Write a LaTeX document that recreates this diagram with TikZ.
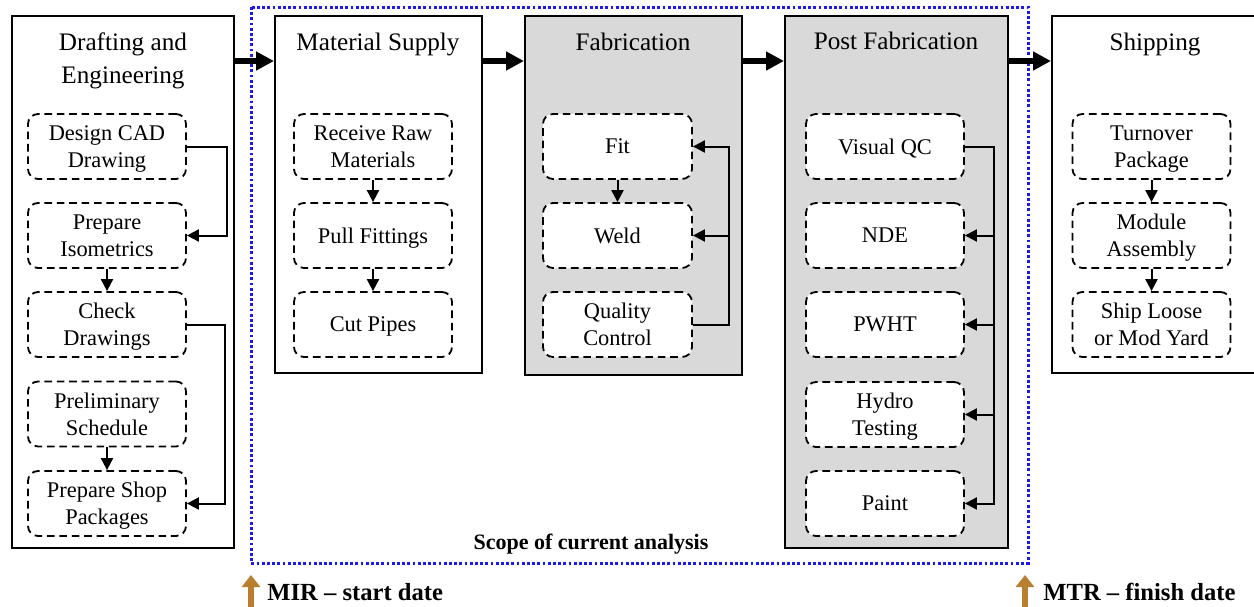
\documentclass[tikz,border=0pt]{standalone}
\usepackage{fontspec}
\setmainfont{Liberation Serif}
\usetikzlibrary{arrows.meta}
\definecolor{panelgray}{RGB}{217,217,217}
\definecolor{scopeblue}{RGB}{25,25,240}
\definecolor{markbrown}{RGB}{184,128,46}

\begin{document}
\begin{tikzpicture}[x=0.5pt,y=-0.5pt,
  stage/.style={draw=black, line width=1pt, inner sep=0pt, fill=white},
  shaded/.style={stage, fill=panelgray},
  task/.style={draw=black, line width=0.9pt, dash pattern=on 3.8pt off 2.4pt,
    rounded corners=5pt, fill=white, minimum width=79pt, minimum height=32.5pt,
    align=center, inner sep=0pt, text depth=0pt, font=\fontsize{11.2}{13.5}\selectfont},
  title/.style={font=\fontsize{12.6}{16.5}\selectfont, align=center},
  conn/.style={line width=1pt, -{Triangle[length=6pt,width=6pt]}},
  flow/.style={line width=3pt, -{Triangle[length=9pt,width=9pt]}},
  scopeline/.style={draw=scopeblue, line width=1.5pt, dash pattern=on 1.4pt off 1.2pt},
  datemark/.style={draw=markbrown, line width=3pt, -{Triangle[length=6pt,width=9pt]}},
  datelabel/.style={font=\bfseries\fontsize{12.3}{14}\selectfont, anchor=base west, inner sep=0pt}
]
\useasboundingbox (0,0) rectangle (1254,606);

% scope of the current analysis
\draw[scopeline] (251,7) rectangle (1028,563);
\node[font=\bfseries\fontsize{11}{13}\selectfont] (scopetext) at (591,544) {Scope of current analysis};

% stages
\node[stage,  minimum width=111pt,  minimum height=266pt]   (draft) at (123,282) {};
\node[stage,  minimum width=103.5pt, minimum height=178.5pt] (mat)   at (378.5,194.5) {};
\node[shaded, minimum width=108.5pt, minimum height=179.5pt] (fab)   at (633.5,195.5) {};
\node[shaded, minimum width=111.5pt, minimum height=266pt]   (post)  at (896.5,282) {};
\node[stage,  minimum width=102pt,  minimum height=178.5pt] (ship)  at (1154,194.5) {};

% stage titles
\node[title] (tdraft) at (123,61) {Drafting and\\Engineering};
\node[title, anchor=base] (tmat)  at (378,50) {Material Supply};
\node[title, anchor=base] (tfab)  at (633,50) {Fabrication};
\node[title, anchor=base] (tpost) at (896,49) {Post Fabrication};
\node[title, anchor=base] (tship) at (1155,50) {Shipping};

% flow between stages
\coordinate (flowline) at (0,61);
\draw[flow] (draft.east |- flowline) -- (mat.west |- flowline);
\draw[flow] (mat.east |- flowline)   -- (fab.west |- flowline);
\draw[flow] (fab.east |- flowline)   -- (post.west |- flowline);
\draw[flow] (post.east |- flowline)  -- (ship.west |- flowline);

% drafting and engineering tasks
\node[task] (d1) at (107,146.5) {Design CAD\\Drawing};
\node[task] (d2) at (107,235.5) {Prepare\\Isometrics};
\node[task] (d3) at (107,324.5) {Check\\Drawings};
\node[task] (d4) at (107,414)   {Preliminary\\Schedule};
\node[task] (d5) at (107,503.5) {Prepare Shop\\Packages};
\draw[conn] (d1.east) -- ++(40,0) |- (d2.east);
\draw[conn] (d2.south) -- (d3.north);
\draw[conn] (d3.east) -- ++(38,0) |- (d5.east);
\draw[conn] (d4.south) -- (d5.north);

% material supply tasks
\node[task] (m1) at (373,146.5) {Receive Raw\\Materials};
\node[task] (m2) at (373,235.5) {Pull Fittings};
\node[task] (m3) at (373,324.5) {Cut Pipes};
\draw[conn] (m1.south) -- (m2.north);
\draw[conn] (m2.south) -- (m3.north);

% fabrication tasks
\node[task, minimum width=74.5pt] (f1) at (617.5,146.5) {Fit};
\node[task, minimum width=74.5pt] (f2) at (617.5,235.5) {Weld};
\node[task, minimum width=74.5pt] (f3) at (617.5,324.5) {Quality\\Control};
\draw[conn] (f1.south) -- (f2.north);
\draw[conn] (f3.east) -- ++(36,0) coordinate (fq) |- (f1.east);
\draw[conn] (fq |- f2.east) -- (f2.east);

% post fabrication tasks
\node[task] (p1) at (885,146.5) {Visual QC};
\node[task] (p2) at (885,235.5) {NDE};
\node[task] (p3) at (885,324.5) {PWHT};
\node[task] (p4) at (885,414.5) {Hydro\\Testing};
\node[task] (p5) at (885,503.5) {Paint};
\draw[conn] (p1.east) -- ++(29,0) coordinate (pq) |- (p5.east);
\draw[conn] (pq |- p2.east) -- (p2.east);
\draw[conn] (pq |- p3.east) -- (p3.east);
\draw[conn] (pq |- p4.east) -- (p4.east);

% shipping tasks
\node[task] (s1) at (1151.5,146.5) {Turnover\\Package};
\node[task] (s2) at (1151.5,235.5) {Module\\Assembly};
\node[task] (s3) at (1151.5,324.5) {Ship Loose\\or Mod Yard};
\draw[conn] (s1.south) -- (s2.north);
\draw[conn] (s2.south) -- (s3.north);

% start and finish markers
\coordinate (mirfoot) at (251,608);
\coordinate (mirtip)  at (251,575);
\coordinate (mtrfoot) at (1025,608);
\coordinate (mtrtip)  at (1025,575);
\draw[datemark] (mirfoot) -- (mirtip);
\draw[datemark] (mtrfoot) -- (mtrtip);
\node[datelabel] (mir) at (267,600) {MIR – start date};
\node[datelabel] (mtr) at (1043,600) {MTR – finish date};
\end{tikzpicture}
\end{document}
